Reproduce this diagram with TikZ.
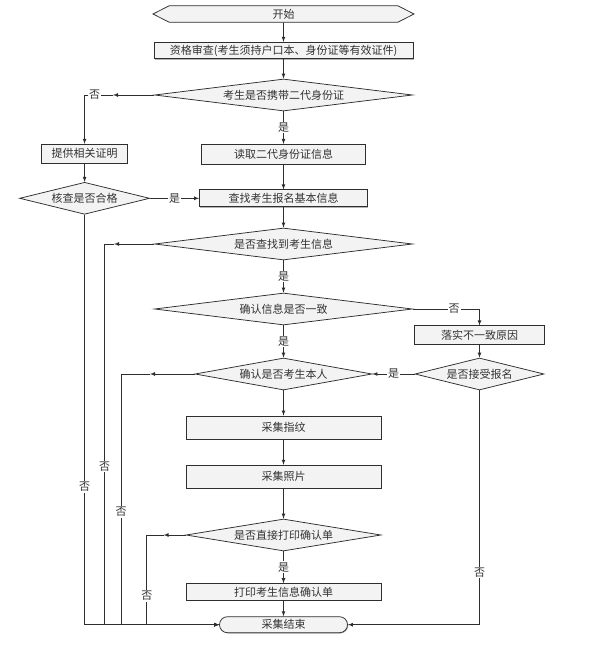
\documentclass[tikz,border=0pt]{standalone}
\usepackage{fontspec}
\newfontfamily\cjk{Noto Sans CJK SC}
\usetikzlibrary{shapes.geometric,shapes.symbols,shadows}
\definecolor{boxfill}{HTML}{F3F3F3}
\definecolor{linegray}{HTML}{2E2E2E}

\begin{document}
\begin{tikzpicture}[x=1pt,y=-1pt,>=latex,line width=0.75pt,draw=linegray,
    font=\cjk\fontsize{11}{12}\selectfont,
    proc/.style={shape=rectangle,draw=linegray,fill=boxfill,text=black!80,inner sep=0pt,
      drop shadow={shadow xshift=0.8pt,shadow yshift=-0.8pt,opacity=0.6}},
    dec/.style={shape=diamond,aspect=6,draw=linegray,fill=boxfill,text=black!80,inner sep=0pt,minimum height=32pt},
    term/.style={shape=signal,signal to=west and east,signal pointer angle=54,draw=linegray,fill=boxfill,
      text=black!80,inner sep=0pt,minimum width=261pt,minimum height=16.5pt},
    lbl/.style={fill=white,inner sep=1pt,text=black!80}]
  \useasboundingbox (0,0) rectangle (595,648);

  \node[term] (ks) at (283.5,14) {开始};
  \node[proc,minimum width=259pt,minimum height=16.5pt] (zg) at (283.5,50.5) {资格审查(考生须持户口本、身份证等有效证件)};
  \node[dec,minimum width=258pt] (d1) at (283.5,95) {考生是否携带二代身份证};
  \node[proc,minimum width=86pt,minimum height=19pt] (tg) at (84.6,153.7) {提供相关证明};
  \node[proc,minimum width=164pt,minimum height=20pt] (dq) at (283.5,154.3) {读取二代身份证信息};
  \node[dec,minimum width=130pt] (hc) at (84.6,198.3) {核查是否合格};
  \node[proc,minimum width=168pt,minimum height=17pt] (cz) at (283.5,198.3) {查找考生报名基本信息};
  \node[dec,minimum width=258pt] (d2) at (283.5,244) {是否查找到考生信息};
  \node[dec,minimum width=258pt] (d3) at (283.5,309) {确认信息是否一致};
  \node[proc,minimum width=130pt,minimum height=18.3pt] (ls) at (479.5,335) {落实不一致原因};
  \node[dec,minimum width=177pt] (d4) at (283.5,374) {确认是否考生本人};
  \node[dec,minimum width=129pt] (d5) at (479.5,374) {是否接受报名};
  \node[proc,minimum width=195pt,minimum height=23pt] (zw) at (283.5,427.5) {采集指纹};
  \node[proc,minimum width=195pt,minimum height=23pt] (zp) at (283.5,476.7) {采集照片};
  \node[dec,minimum width=195pt] (d6) at (283.5,535) {是否直接打印确认单};
  \node[proc,minimum width=195pt,minimum height=16.7pt] (dy) at (283.5,592) {打印考生信息确认单};
  \node[proc,rounded corners=8pt,minimum width=128pt,minimum height=16pt] (js) at (283.5,624.7) {采集结束};

  % main line
  \draw[->] (ks) -- (zg);
  \draw[->] (zg) -- (d1);
  \path[->] (d1) edge node[lbl,midway] {是} (dq);
  \draw[->] (tg) -- (hc);
  \path[->] (hc) edge node[lbl,midway] {是} (cz);
  \draw[->] (dq) -- (cz);
  \draw[->] (cz) -- (d2);
  \path[->] (d2) edge node[lbl,midway] {是} (d3);
  \path[->] (d3) edge node[lbl,midway] {是} (d4);
  \draw[->] (d3.east) -| node[lbl,pos=0.31] {否} (ls);
  \draw[->] (ls) -- (d5);
  \path[->] (d5) edge node[lbl,midway] {是} (d4);
  \draw[->] (d4) -- (zw);
  \draw[->] (zw) -- (zp);
  \draw[->] (zp) -- (d6);
  \path[->] (d6) edge node[lbl,midway] {是} (dy);
  \draw[->] (dy) -- (js);

  % no branches
  \coordinate (a1) at (113,95);
  \coordinate (b1) at (84.6,95);
  \draw[->] (d1.west) -- (a1);
  \draw[->] (a1) -- node[lbl,pos=0.65] {否} (b1) -- (tg);

  \draw[->] (hc.south) -- node[lbl,pos=0.664] {否} (hc.south |- js) -- (js.west);

  \coordinate (a2) at (114,244);
  \coordinate (b2) at (104.6,244);
  \draw[->] (d2.west) -- (a2);
  \draw[->] (a2) -- (b2) -- node[lbl,pos=0.585] {否} (b2 |- js) -- (js.west);

  \coordinate (a4) at (150,374);
  \coordinate (b4) at (121,374);
  \draw[->] (d4.west) -- (a4);
  \draw[->] (a4) -- (b4) -- node[lbl,pos=0.55] {否} (b4 |- js) -- (js.west);

  \coordinate (a6) at (163.5,535);
  \coordinate (b6) at (146.8,535);
  \draw[->] (d6.west) -- (a6);
  \draw[->] (a6) -- (b6) -- node[lbl,pos=0.68] {否} (b6 |- js) -- (js.west);

  \draw[->] (d5.south) -- node[lbl,pos=0.777] {否} (d5.south |- js) -- (js.east);
\end{tikzpicture}
\end{document}
